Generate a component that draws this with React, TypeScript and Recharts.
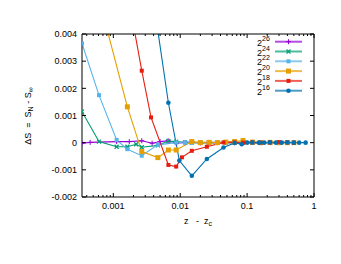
import { LineChart, Line, XAxis, YAxis } from "recharts";

const FONT = "'Liberation Sans', Arial, sans-serif";

// system sizes N = 2^k
const exps = ["26", "24", "22", "20", "18", "16"];
const colors = ["#9400d3", "#009e73", "#56b4e9", "#e69f00", "#e51e10", "#0072b2"];
const shapes = ["plus", "cross", "square", "square", "square", "circle"];

const x26 = [0.00034, 0.00045, 0.00112, 0.00173, 0.00266, 0.0038, 0.005, 0.0066, 0.0087, 0.0118, 0.0149, 0.02, 0.027, 0.036, 0.048, 0.065, 0.087, 0.12, 0.16, 0.22, 0.3];
const y26 = [-0.00002, 0.00001, 0.00004, 0.00004, 0.00007, -0.00002, 0.00004, 0.00007, -0.00002, 0.00001, 0.00002, -0.00001, 0.00001, 0, 0.00001, 0, 0, 0.00001, 0, 0, 0];

const x24 = [0.00034, 0.00061, 0.00112, 0.00162, 0.00219, 0.00266, 0.00463, 0.00665, 0.0087, 0.0118, 0.0149, 0.02, 0.027, 0.036, 0.048, 0.065, 0.087, 0.12, 0.16, 0.22, 0.3];
const y24 = [0.00114, 0.00004, -0.00015, -0.00015, -0.00006, -0.00017, -0.0001, 0.00006, 0.00004, 0.00001, 0, 0.00001, 0, 0, 0.00001, 0, 0, 0, 0, 0, 0];

const x22 = [0.00034, 0.00061, 0.00112, 0.00162, 0.00266, 0.0046, 0.0087, 0.0118, 0.0149, 0.02, 0.027, 0.036, 0.048, 0.065, 0.087, 0.12, 0.16, 0.22, 0.3];
const y22 = [0.00365, 0.00175, 0.0001, -0.00024, -0.00048, -0.00008, 0, 0.00001, 0, 0, 0.00001, 0, 0, 0, 0.00001, 0, 0, 0, 0];

const x20 = [0.00061, 0.00162, 0.00266, 0.00463, 0.00665, 0.0087, 0.0149, 0.02, 0.027, 0.036, 0.048, 0.065, 0.087, 0.12, 0.16, 0.22, 0.3, 0.4, 0.5];
const y20 = [0.0053, 0.00132, -0.00033, -0.00055, -0.00027, -0.00027, 0.00004, 0, 0.00001, 0, 0.00002, 0.00004, 0.00008, 0.00002, 0, 0.00001, 0, 0, 0];

const x18 = [0.00162, 0.00266, 0.00366, 0.00665, 0.0087, 0.0106, 0.0149, 0.025, 0.0444, 0.065, 0.087, 0.12, 0.16, 0.22, 0.3, 0.4, 0.5];
const y18 = [0.00556, 0.00265, 0.00093, -0.00082, -0.00088, -0.00054, -0.0003, -0.00015, 0.00001, 0.00001, 0, 0.00001, 0, 0.00001, 0.00002, 0.00001, 0];

const x16 = [0.00366, 0.00665, 0.0097, 0.0149, 0.025, 0.0444, 0.065, 0.083, 0.1, 0.12, 0.15, 0.18, 0.22, 0.27, 0.33, 0.4, 0.5, 0.6, 0.75];
const y16 = [0.00583, 0.00147, -0.00066, -0.00122, -0.0006, -0.00018, -0.00001, -0.00006, 0, 0.00001, 0, 0, 0.00001, 0, 0, 0.00001, 0, 0, 0];

const xs = [x26, x24, x22, x20, x18, x16];
const ys = [y26, y24, y22, y20, y18, y16];

const xMajor = [0.001, 0.01, 0.1, 1];
const xMajorLabels = ["0.001", "0.01", "0.1", "1"];
const xMinor = [0.0004, 0.0005, 0.0006, 0.0007, 0.0008, 0.0009, 0.002, 0.003, 0.004, 0.005, 0.006, 0.007, 0.008, 0.009, 0.02, 0.03, 0.04, 0.05, 0.06, 0.07, 0.08, 0.09, 0.2, 0.3, 0.4, 0.5, 0.6, 0.7, 0.8, 0.9];
const yTicks = [-0.002, -0.001, 0, 0.001, 0.002, 0.003, 0.004];
const yLabels = ["-0.002", "-0.001", "0", "0.001", "0.002", "0.003", "0.004"];

const Marker = ({ shape, cx, cy, color }: any) => {
  if (cx == null || cy == null) return null;
  if (shape === "plus")
    return <path d={`M${cx - 2.5},${cy}H${cx + 2.5}M${cx},${cy - 2.5}V${cy + 2.5}`} stroke={color} strokeWidth={1} fill="none" />;
  if (shape === "cross")
    return <path d={`M${cx - 2},${cy - 2}L${cx + 2},${cy + 2}M${cx - 2},${cy + 2}L${cx + 2},${cy - 2}`} stroke={color} strokeWidth={1.2} fill="none" />;
  if (shape === "circle") return <circle cx={cx} cy={cy} r={2.3} fill={color} />;
  const s = color === colors[3] ? 2.5 : 2;
  return <rect x={cx - s} y={cy - s} width={2 * s} height={2 * s} fill={color} />;
};

const xLabelOf = (v: number) => {
  const i = xMajor.indexOf(v);
  return i >= 0 ? xMajorLabels[i] : null;
};

const BottomTick = ({ x, y, payload }: any) => {
  const lab = xLabelOf(payload.value);
  return (
    <g>
      <line x1={x} x2={x} y1={y} y2={y - (lab ? 4 : 2)} stroke="#000" />
      {lab && (
        <text x={x} y={y + 12} textAnchor="middle" fontSize={9} fontFamily={FONT} fill="#000">
          {lab}
        </text>
      )}
    </g>
  );
};

const TopTick = ({ x, y, payload }: any) => {
  const lab = xLabelOf(payload.value);
  return <line x1={x} x2={x} y1={y} y2={y + (lab ? 4 : 2)} stroke="#000" />;
};

const LeftTick = ({ x, y, payload }: any) => {
  const i = yTicks.indexOf(payload.value);
  return (
    <g>
      <line x1={x} x2={x + 4} y1={y} y2={y} stroke="#000" />
      <text x={x - 5} y={y + 3.2} textAnchor="end" fontSize={9} fontFamily={FONT} fill="#000">
        {yLabels[i]}
      </text>
    </g>
  );
};

const RightTick = ({ x, y }: any) => <line x1={x} x2={x - 4} y1={y} y2={y} stroke="#000" />;

export default function App() {
  return (
    <div style={{ position: "absolute", left: 0, top: 0, width: 341, height: 264, background: "#fff" }}>
      <LineChart width={341} height={264} margin={{ top: 0, right: 0, bottom: 0, left: 0 }}>
        <XAxis
          dataKey="x"
          type="number"
          scale="log"
          domain={[0.00034, 1]}
          allowDataOverflow
          ticks={[...xMinor, ...xMajor]}
          interval={0}
          height={67}
          tickSize={0}
          tickMargin={0}
          tick={<BottomTick />}
          axisLine={{ stroke: "#000" }}
          tickLine={false}
        />
        <XAxis
          xAxisId="top"
          orientation="top"
          dataKey="x"
          type="number"
          scale="log"
          domain={[0.00034, 1]}
          allowDataOverflow
          ticks={[...xMinor, ...xMajor]}
          interval={0}
          height={34}
          tickSize={0}
          tickMargin={0}
          tick={<TopTick />}
          axisLine={{ stroke: "#000" }}
          tickLine={false}
        />
        <YAxis
          type="number"
          domain={[-0.002, 0.004]}
          allowDataOverflow
          ticks={yTicks}
          interval={0}
          width={82}
          tickSize={0}
          tickMargin={0}
          tick={<LeftTick />}
          axisLine={{ stroke: "#000" }}
          tickLine={false}
        />
        <YAxis
          yAxisId="right"
          orientation="right"
          type="number"
          domain={[-0.002, 0.004]}
          allowDataOverflow
          ticks={yTicks}
          interval={0}
          width={27}
          tickSize={0}
          tickMargin={0}
          tick={<RightTick />}
          axisLine={{ stroke: "#000" }}
          tickLine={false}
        />
        {exps.map((e, k) => (
          <Line
            key={e}
            data={xs[k].map((x, i) => ({ x, y: ys[k][i] }))}
            dataKey="y"
            type="linear"
            stroke={colors[k]}
            strokeWidth={1.1}
            isAnimationActive={false}
            dot={(p: any) => <Marker key={`${e}-${p.index}`} shape={shapes[k]} cx={p.cx} cy={p.cy} color={colors[k]} />}
            activeDot={false}
          />
        ))}
      </LineChart>
      <svg width={341} height={264} style={{ position: "absolute", left: 0, top: 0, pointerEvents: "none" }}>
        <text
          transform="translate(31,116) rotate(-90)"
          textAnchor="middle"
          fontSize={9}
          fontFamily={FONT}
          fill="#000"
        >
          {"ΔS\u00a0\u00a0=\u00a0\u00a0S"}
          <tspan fontSize={7} dy={2}>N</tspan>
          <tspan dy={-2}>{"\u00a0-\u00a0S"}</tspan>
          <tspan fontSize={7} dy={2}>∞</tspan>
        </text>
        <text x={198} y={224} textAnchor="middle" fontSize={9} fontFamily={FONT} fill="#000">
          {"z\u00a0\u00a0\u00a0-\u00a0\u00a0z"}
          <tspan fontSize={7} dy={2}>c</tspan>
        </text>
        {exps.map((e, k) => {
          const cy = 41.7 + k * 9.8;
          return (
            <g key={e}>
              <text x={262} y={cy + 4} textAnchor="end" fontSize={9} fontFamily={FONT} fill="#000">
                2
              </text>
              <text x={262} y={cy - 1} fontSize={7} fontFamily={FONT} fill="#000">
                {e}
              </text>
              <line x1={275} x2={302} y1={cy} y2={cy} stroke={colors[k]} strokeWidth={2} strokeOpacity={0.7} />
              <Marker shape={shapes[k]} cx={288.5} cy={cy} color={colors[k]} />
            </g>
          );
        })}
      </svg>
    </div>
  );
}
